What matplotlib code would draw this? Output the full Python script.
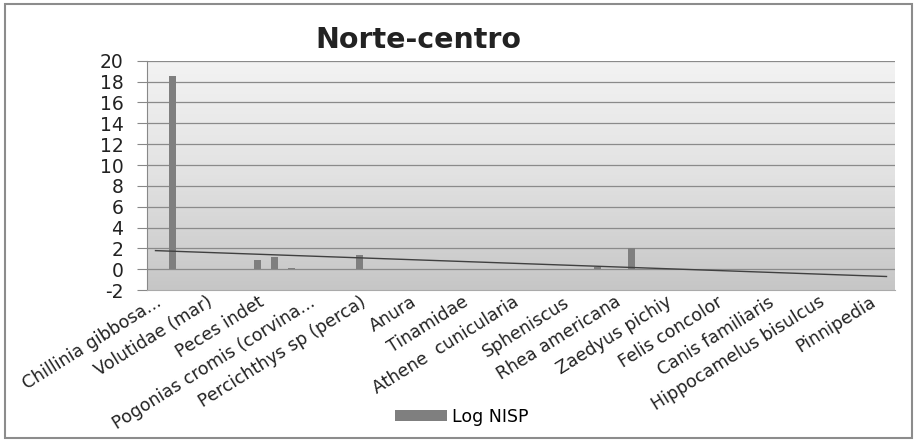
import numpy as np
import matplotlib
matplotlib.use('Agg')
import matplotlib.pyplot as plt
from matplotlib.patches import Rectangle

plt.rcParams['font.family'] = ['DejaVu Sans']
plt.rcParams['axes.unicode_minus'] = False

# tick labels (Excel shows only every 3rd category)
labels = ['Chillinia gibbosa...', 'Volutidae (mar)', 'Peces indet',
          'Pogonias cromis (corvina...', 'Percichthys sp (perca)', 'Anura',
          'Tinamidae', 'Athene  cunicularia', 'Spheniscus', 'Rhea americana',
          'Zaedyus pichiy', 'Felis concolor', 'Canis familiaris',
          'Hippocamelus bisulcus', 'Pinnipedia']

# Log NISP, 44 categories
log_nisp = [0, 18.55, 0, 0, 0, 0, 0.87, 1.15, 0.1, 0, 0,
            0, 1.34, 0, 0, 0, 0, 0.05, 0, 0, 0, 0,
            0, 0, 0, 0, 0.25, 0, 2.0, 0, 0, 0, 0,
            0, 0, 0, 0, 0.07, 0, 0, 0, 0, 0, 0]

x = np.arange(len(log_nisp))
y = np.array(log_nisp)

fig = plt.figure(figsize=(9.2, 4.4), dpi=100)
ax = fig.add_axes([147 / 920, 1 - 290.2 / 440, 748 / 920, 229.5 / 440])

# gradient background like Excel
grad = np.linspace(0, 1, 256).reshape(-1, 1)
ax.imshow(grad, extent=[-0.5, len(x) - 0.5, -2, 20], aspect='auto',
          cmap=matplotlib.colors.LinearSegmentedColormap.from_list('g', ['#c6c6c6', '#e2e2e2', '#f3f3f3']),
          origin='lower', zorder=0)

ax.set_xlim(-0.5, len(x) - 0.5)
ax.set_ylim(-2, 20)
ax.set_yticks(range(-2, 21, 2))
for v in range(0, 21, 2):
    ax.axhline(v, color='#8a8a8a', lw=0.9, zorder=1)

ax.bar(x, y, width=0.36, color='#7f7f7f', zorder=2, label='Log NISP')

# linear trendline
k, b = np.polyfit(x, y, 1)
ax.plot(x, k * x + b, color='#404040', lw=1.0, zorder=3)

ax.set_xticks(x[::3])
ax.set_xticklabels(labels, rotation=32, ha='right', va='top',
                   rotation_mode='anchor', fontsize=12.5, color='#222222')
ax.tick_params(axis='x', length=0, pad=2)
ax.tick_params(axis='y', length=7, color='#888888', labelsize=13.5, labelcolor='#222222', pad=10)
for s in ['top', 'right']:
    ax.spines[s].set_visible(False)
ax.spines['left'].set_color('#888888')
ax.spines['bottom'].set_color('#aaaaaa')

fig.text(418 / 920, 1 - 40 / 440, 'Norte-centro', ha='center', va='center',
         fontsize=20.5, fontweight='bold', color='#222222')

fig.legend(loc='center', bbox_to_anchor=(462 / 920, 1 - 417 / 440), frameon=False,
           fontsize=12.5, handlelength=3.0, handleheight=0.6, handletextpad=0.3)

fig.patches.append(Rectangle((5 / 920, 2 / 440), 907 / 920, 434 / 440, transform=fig.transFigure,
                             fill=False, edgecolor='#8c8c8c', lw=1.5))

fig.savefig('out.png', dpi=100, facecolor='white')
